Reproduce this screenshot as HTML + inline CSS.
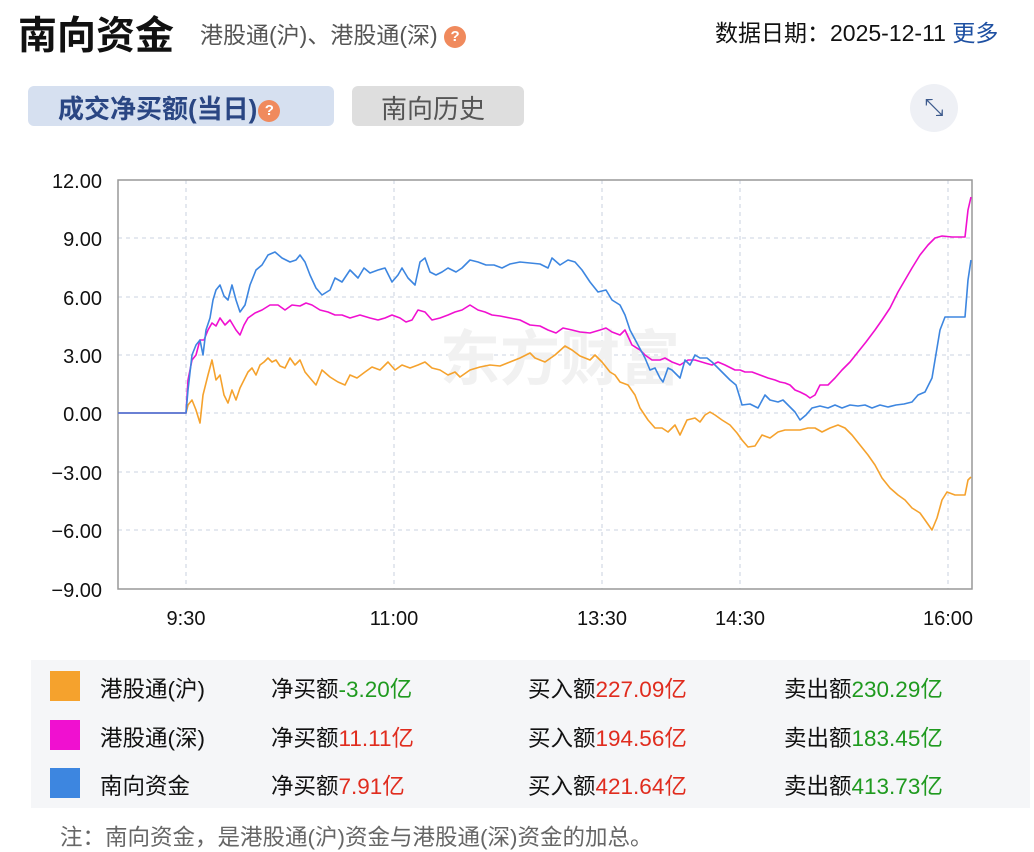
<!DOCTYPE html><html><head><meta charset="utf-8"><style>
body{margin:0;width:1034px;height:848px;background:#fff;font-family:"Liberation Sans","Noto Sans CJK SC",sans-serif;position:relative;overflow:hidden}
.a{position:absolute;white-space:nowrap}
.q{display:inline-block;width:22px;height:22px;border-radius:50%;background:#f08a5d;color:#fff;font-size:15px;text-align:center;line-height:22px;font-weight:bold;vertical-align:middle}
.sq{position:absolute;left:50px;width:30px;height:30px}
.r{color:#e02c1e}.g{color:#1f9a1f}
.lg{font-size:22.5px;color:#111}
</style></head><body>
<div class="a" style="left:18px;top:5px;font-size:39px;font-weight:bold;color:#111">南向资金</div>
<div class="a" style="left:200px;top:16px;font-size:23px;color:#555">港股通(沪)、港股通(深) <span class="q">?</span></div>
<div class="a" style="left:715px;top:14px;font-size:23px;color:#111">数据日期：2025-12-11 <span style="color:#1e50a2">更多</span></div>
<div class="a" style="left:28px;top:86px;width:306px;height:40px;background:#d6e0f0;border-radius:6px"></div>
<div class="a" style="left:58px;top:89px;font-size:26px;font-weight:bold;color:#2a4683">成交净买额(当日)<span class="q" style="margin-left:1px">?</span></div>
<div class="a" style="left:352px;top:86px;width:172px;height:40px;background:#dedede;border-radius:6px"></div>
<div class="a" style="left:381px;top:89px;font-size:26px;color:#555">南向历史</div>
<div class="a" style="left:910px;top:84px;width:48px;height:48px;border-radius:50%;background:#eef0f5;color:#3d5a8c;font-size:24px;text-align:center;line-height:48px">⤡</div>
<svg class="a" style="left:0;top:0" width="1034" height="650">
<g font-size="20" fill="#111" text-anchor="end" font-family="Liberation Sans,sans-serif">
<text x="102" y="188">12.00</text><text x="102" y="246">9.00</text><text x="102" y="305">6.00</text><text x="102" y="363">3.00</text><text x="102" y="421">0.00</text><text x="102" y="480">−3.00</text><text x="102" y="538">−6.00</text><text x="102" y="597">−9.00</text></g>
<g stroke="#d5dce6" stroke-dasharray="4,4" stroke-width="1.3">
<line x1="118" x2="972" y1="238" y2="238"/><line x1="118" x2="972" y1="297" y2="297"/><line x1="118" x2="972" y1="355" y2="355"/><line x1="118" x2="972" y1="413" y2="413"/><line x1="118" x2="972" y1="472" y2="472"/><line x1="118" x2="972" y1="530" y2="530"/>
<line x1="186" x2="186" y1="180" y2="589"/><line x1="394" x2="394" y1="180" y2="589"/><line x1="602" x2="602" y1="180" y2="589"/><line x1="740" x2="740" y1="180" y2="589"/><line x1="948" x2="948" y1="180" y2="589"/></g>
<rect x="118" y="180" width="854" height="409" fill="none" stroke="#999" stroke-width="1.5"/>
<text x="440" y="380" font-size="60" fill="#f1f1f1" font-weight="bold" font-family="Noto Sans CJK SC,sans-serif">东方财富</text>
<g font-size="20" fill="#111" text-anchor="middle"><text x="186" y="625">9:30</text><text x="394" y="625">11:00</text><text x="602" y="625">13:30</text><text x="740" y="625">14:30</text><text x="948" y="625">16:00</text></g>
<g fill="none" stroke-width="1.6" stroke-linejoin="round">
<polyline stroke="#f5a22d" points="118,413 186,413 188,405 192,400 196,410 200,423 203,395 208,375 212,360 216,380 220,375 224,395 228,403 232,390 236,400 240,388 244,380 248,372 252,368 256,375 260,365 264,362 268,358 272,362 276,360 280,366 285,368 290,358 295,365 300,360 305,372 310,378 316,385 322,370 330,377 338,382 345,385 350,375 357,378 365,372 372,367 380,370 388,362 395,370 402,365 410,368 418,365 425,362 432,368 440,370 448,375 455,372 460,377 470,370 480,367 490,365 500,366 510,362 520,358 530,353 535,358 545,362 555,355 565,346 572,350 580,356 590,360 595,355 602,362 610,372 615,375 620,382 628,385 635,395 640,408 648,420 655,428 662,428 668,432 675,425 680,435 687,420 695,418 700,422 705,415 710,412 715,415 722,420 730,425 737,433 742,440 748,447 755,446 762,435 770,438 778,432 785,430 792,430 800,430 808,428 815,428 822,432 830,428 838,425 845,428 852,435 860,445 868,455 875,465 882,478 890,488 898,495 905,500 912,508 920,513 925,520 932,530 937,518 942,500 947,492 955,495 965,495 968,480 971,477"/>
<polyline stroke="#f010d0" points="118,413 186,413 188,380 192,360 196,355 200,340 204,340 208,330 212,323 216,326 220,318 225,325 230,320 236,330 240,335 244,325 248,318 255,313 262,310 270,305 278,305 285,310 292,305 300,306 306,303 312,305 320,310 328,312 335,315 342,315 350,318 360,315 370,318 378,320 385,318 392,315 400,318 406,322 412,320 418,310 425,312 432,320 440,318 448,315 455,312 462,310 470,305 478,310 485,312 492,315 500,316 510,318 520,320 530,325 540,326 548,330 556,333 563,328 572,330 580,332 590,333 600,330 606,328 612,332 620,335 625,330 632,345 640,350 645,355 652,360 660,360 665,358 672,362 680,365 688,360 695,360 705,363 712,365 718,362 725,365 735,370 740,370 745,372 752,372 760,375 768,378 775,380 780,382 785,383 790,385 795,390 800,392 806,395 810,398 815,395 820,385 828,385 835,378 842,370 850,362 858,352 866,342 875,330 882,320 890,308 898,292 905,280 912,268 920,255 928,245 935,238 942,236 952,237 965,237 968,210 971,197"/>
<polyline stroke="#3d86e0" points="118,413 186,413 188,390 192,355 196,345 200,340 203,355 206,330 210,318 213,300 216,290 220,285 224,296 228,300 232,285 236,300 240,312 245,305 250,285 256,270 262,265 268,255 275,252 282,258 290,262 296,260 300,255 305,262 310,275 316,288 322,295 330,290 335,278 342,282 350,270 358,278 364,268 370,273 378,270 385,268 392,282 398,275 402,268 408,278 415,285 420,262 425,258 430,272 436,275 442,272 448,268 456,272 462,268 470,260 478,262 486,265 494,265 502,268 510,264 520,262 530,263 540,264 548,268 552,258 560,265 568,260 575,262 582,270 590,282 598,292 606,290 612,300 620,305 625,315 630,330 638,345 645,358 650,370 655,368 660,378 663,382 668,368 672,370 680,378 685,360 690,365 695,355 700,358 707,358 712,362 718,368 725,375 730,380 736,385 740,398 742,405 750,404 758,408 765,395 770,400 778,402 783,400 790,407 795,412 800,420 806,415 812,408 820,406 828,408 835,405 842,408 850,405 858,406 865,405 872,408 880,405 888,407 896,405 904,404 912,402 918,395 925,392 932,378 935,360 940,330 945,317 955,317 965,317 968,280 971,260"/>
</g></svg>
<div class="a" style="left:31px;top:660px;width:999px;height:148px;background:#f5f6f8"></div>
<div class="sq" style="top:671px;background:#f5a22d"></div>
<div class="sq" style="top:720px;background:#f010d0"></div>
<div class="sq" style="top:768px;background:#3d86e0"></div>
<div class="a lg" style="left:100px;top:672px">港股通(沪)</div>
<div class="a lg" style="left:100px;top:721px">港股通(深)</div>
<div class="a lg" style="left:100px;top:769px">南向资金</div>
<div class="a lg" style="left:271px;top:672px">净买额<span class="g">-3.20亿</span></div>
<div class="a lg" style="left:271px;top:721px">净买额<span class="r">11.11亿</span></div>
<div class="a lg" style="left:271px;top:769px">净买额<span class="r">7.91亿</span></div>
<div class="a lg" style="left:528px;top:672px">买入额<span class="r">227.09亿</span></div>
<div class="a lg" style="left:528px;top:721px">买入额<span class="r">194.56亿</span></div>
<div class="a lg" style="left:528px;top:769px">买入额<span class="r">421.64亿</span></div>
<div class="a lg" style="left:784px;top:672px">卖出额<span class="g">230.29亿</span></div>
<div class="a lg" style="left:784px;top:721px">卖出额<span class="g">183.45亿</span></div>
<div class="a lg" style="left:784px;top:769px">卖出额<span class="g">413.73亿</span></div>
<div class="a" style="left:60px;top:820px;font-size:22.5px;color:#666">注：南向资金，是港股通(沪)资金与港股通(深)资金的加总。</div>
</body></html>
